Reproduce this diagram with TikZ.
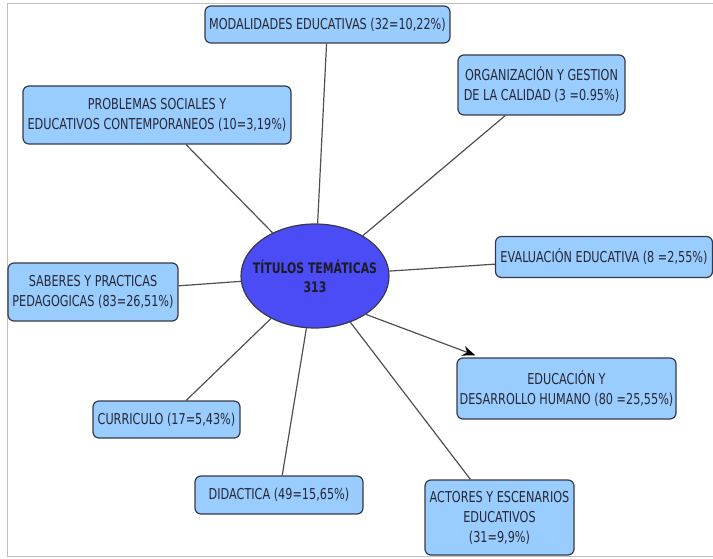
\documentclass[tikz,border=0pt]{standalone}
\usepackage{fontspec}
\setmainfont{DejaVu Sans}[FakeStretch=0.75]
\usetikzlibrary{shapes,arrows.meta}

\definecolor{boxfill}{RGB}{153,204,255}
\definecolor{boxline}{RGB}{55,57,72}
\definecolor{centrofill}{RGB}{76,76,246}
\definecolor{texto}{RGB}{40,40,52}
\definecolor{linea}{RGB}{80,80,80}

\begin{document}
\begin{tikzpicture} [
    x=1pt, y=-1pt,
    line width=1.2pt,
  ]

  \tikzstyle{tema} = [
    rectangle,
    rounded corners=6pt,
    draw=boxline,
    fill=boxfill,
    text=texto,
    align=center,
    inner sep=2pt,
    font=\fontsize{15}{20}\selectfont,
  ]
  \tikzstyle{centro} = [
    ellipse,
    draw=boxline,
    fill=centrofill,
    text=texto!70!black,
    align=center,
    inner xsep=-20pt,
    inner ysep=0pt,
    minimum width=148pt,
    minimum height=104pt,
    font=\fontsize{14.5}{19}\selectfont\bfseries,
  ]

  \useasboundingbox (0,0) rectangle (713,559);
  \draw[black!25,line width=1pt] (7,4) rectangle (720,556);

  \node[centro]                                              (tit)  at (315,276)   {TÍTULOS TEMÁTICAS\\313};
  \node[tema,minimum width=245pt,minimum height=37pt]        (mod)  at (327.5,24.5) {MODALIDADES EDUCATIVAS (32=10,22\%)};
  \node[tema,minimum width=268pt,minimum height=58pt]        (prob) at (157,115)   {PROBLEMAS SOCIALES Y\\EDUCATIVOS CONTEMPORANEOS (10=3,19\%)};
  \node[tema,minimum width=167pt,minimum height=60pt]        (org)  at (541.5,85)  {ORGANIZACIÓN Y GESTION\\DE LA CALIDAD (3 =0.95\%)};
  \node[tema,minimum width=217pt,minimum height=41pt]        (eval) at (604,257)   {EVALUACIÓN EDUCATIVA (8 =2,55\%)};
  \node[tema,minimum width=170pt,minimum height=58pt]        (sab)  at (93,292)    {SABERES Y PRACTICAS\\PEDAGOGICAS (83=26,51\%)};
  \node[tema,minimum width=219pt,minimum height=61pt]        (edu)  at (566.5,388.5) {EDUCACIÓN Y\\DESARROLLO HUMANO (80 =25,55\%)};
  \node[tema,minimum width=147pt,minimum height=37pt]        (cur)  at (166.5,419.5) {CURRICULO (17=5,43\%)};
  \node[tema,minimum width=168pt,minimum height=38pt]        (did)  at (279,495)   {DIDACTICA (49=15,65\%)};
  \node[tema,minimum width=149pt,minimum height=75pt]        (act)  at (499.5,517.5) {ACTORES Y ESCENARIOS\\EDUCATIVOS\\(31=9,9\%)};

  \coordinate (eduin) at ([xshift=19pt,yshift=2pt]edu.north west);

  \path[linea] (tit) edge (mod);
  \path[linea] (tit) edge (prob);
  \path[linea] (tit) edge (org);
  \path[linea] (tit) edge (eval);
  \path[linea] (tit) edge (sab);
  \path[linea] (tit) edge (cur);
  \path[linea] (tit) edge (did);
  \path[linea] (tit) edge (act);
  \draw[linea,-{Stealth[length=13pt,width=10pt,color=black]}] (tit.-37) -- (eduin);

\end{tikzpicture}
\end{document}
